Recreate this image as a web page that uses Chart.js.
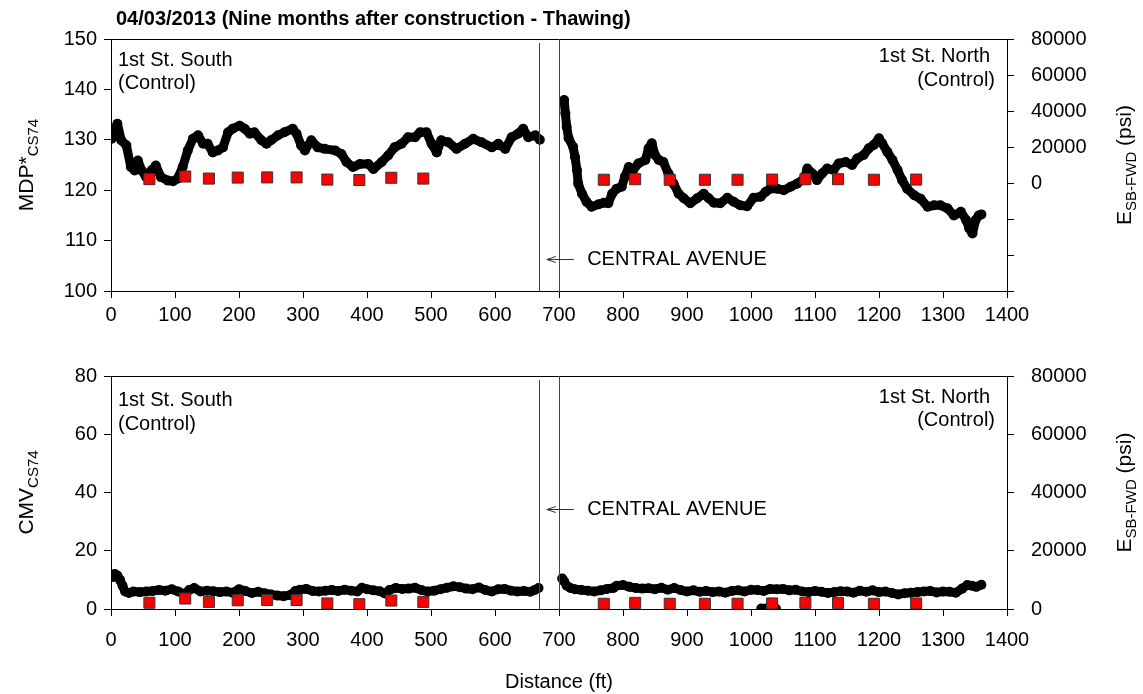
<!DOCTYPE html>
<html>
<head>
<meta charset="utf-8">
<script src="https://cdn.jsdelivr.net/npm/chart.js@4.4.0/dist/chart.umd.min.js"></script>
<style>
  body { margin: 0; background: #fff; }
  canvas { display: block; }
</style>
</head>
<body>
<canvas id="topChart" width="1143" height="347"></canvas>
<canvas id="bottomChart" width="1143" height="347"></canvas>
<script>
// roller data, 1st St. South (left of Central Ave) and 1st St. North (right)
const southFt = [1, 10, 16, 24, 31, 37, 42, 48, 55, 63, 70, 78, 89, 97, 104, 112, 120, 128, 136, 144,
  151, 159, 167, 175, 183, 190, 201, 209, 217, 224, 235, 243, 250, 261, 271, 284, 290, 297, 303, 313,
  323, 334, 350, 360, 368, 378, 389, 402, 410, 423, 433, 443, 454, 464, 475, 483, 493, 501, 509, 516,
  527, 540, 553, 566, 579, 595, 605, 616, 626, 636, 644, 652, 663, 670]
const southMdp = [130.2, 133.2, 129.9, 128.9, 124.6, 123.9, 125.9, 123.9, 122.6, 123.9, 124.9, 122.6, 121.9, 121.8, 122.3, 124.6, 127.9, 130.2, 130.9, 129.2,
  129.2, 127.5, 127.9, 128.5, 131.5, 132.2, 132.8, 132.2, 131.2, 131.5, 129.9, 129.2, 129.9, 130.9, 131.5, 132.2, 131.2, 128.9, 127.9, 129.9,
  128.5, 128.2, 127.9, 127.2, 125.6, 124.6, 125.2, 125.2, 124.2, 125.6, 126.9, 128.5, 129.2, 130.5, 130.5, 131.5, 131.5, 129.2, 127.5, 129.9,
  129.5, 128.2, 129.2, 130.2, 129.5, 128.5, 129.2, 128.2, 130.5, 131.2, 132.2, 130.5, 130.9, 130.0]

const northFt = [708, 710, 712, 715, 722, 725, 728, 730, 736, 743, 751, 762, 770, 777, 783, 790, 798, 803, 809, 816,
  824, 835, 840, 845, 850, 856, 863, 871, 879, 887, 895, 905, 916, 926, 934, 942, 952, 963, 973, 983,
  994, 1004, 1015, 1023, 1030, 1041, 1051, 1062, 1072, 1083, 1088, 1096, 1103, 1111, 1119, 1129, 1137, 1148, 1158, 1166,
  1176, 1184, 1192, 1200, 1205, 1213, 1221, 1229, 1236, 1244, 1255, 1265, 1276, 1286, 1296, 1307, 1317, 1328, 1336, 1341,
  1346, 1351, 1356, 1360]
const northMdp = [137.9, 135.2, 132.6, 130.3, 128.6, 126.6, 124.0, 121.3, 119.3, 117.7, 116.7, 117.2, 117.5, 117.4, 119.3, 120.3, 120.7, 122.7, 124.6, 124.0,
  125.3, 126.0, 128.3, 129.3, 127.0, 126.0, 125.6, 123.3, 121.3, 119.3, 118.4, 117.4, 118.4, 119.3, 118.4, 117.5, 117.4, 118.5, 117.7, 117.0,
  116.8, 118.5, 118.7, 119.7, 120.3, 120.3, 120.0, 120.7, 121.3, 122.3, 124.3, 123.3, 122.0, 123.3, 124.3, 124.0, 125.3, 125.6, 125.0, 126.3,
  127.0, 128.3, 129.0, 130.3, 129.3, 127.6, 126.0, 124.0, 122.0, 120.3, 119.0, 118.3, 116.7, 117.0, 117.0, 116.4, 115.0, 115.7, 114.1, 112.4,
  111.4, 114.1, 115.0, 115.2]

const southCmvFt = [3, 6, 10, 14, 18, 22, 28, 35, 45, 55, 65, 75, 85, 95, 105, 115, 122, 130, 140, 150,
  160, 170, 180, 190, 200, 210, 220, 230, 240, 250, 260, 270, 280, 288, 295, 305, 315, 325, 335, 345,
  355, 365, 375, 385, 392, 400, 410, 420, 428, 435, 445, 455, 465, 475, 485, 495, 505, 515, 525, 535,
  545, 555, 565, 575, 585, 595, 605, 615, 625, 635, 645, 655, 662, 668]
const southCmv = [11, 12, 11.5, 10, 8, 6, 5.5, 6, 5.8, 6, 6.2, 6.5, 6.3, 6.8, 6, 5.2, 6.5, 7.2, 6, 6.3,
  6.1, 5.8, 6, 5.6, 6.8, 6.2, 5.5, 5.9, 5.4, 5.0, 4.6, 4.4, 4.8, 6.2, 6.6, 6.9, 6.2, 6.0, 6.3, 6.5,
  6.2, 6.6, 6.3, 6.0, 7.3, 6.8, 6.4, 6.1, 5.3, 6.5, 7.2, 6.9, 7.0, 7.3, 6.5, 6.0, 6.3, 6.8, 7.3, 7.8,
  7.5, 7.0, 6.8, 7.4, 6.5, 6.0, 6.8, 6.9, 6.3, 6.0, 6.2, 5.9, 6.5, 7.2]

const northCmvFt = [705, 708, 712, 718, 725, 735, 745, 755, 765, 775, 785, 790, 800, 810, 820, 830, 840, 850, 860, 870,
  880, 890, 900, 910, 920, 930, 940, 950, 960, 970, 980, 990, 1000, 1010, 1020, 1030, 1040, 1050, 1060, 1070,
  1080, 1090, 1100, 1110, 1120, 1130, 1140, 1150, 1160, 1170, 1180, 1190, 1200, 1210, 1220, 1230, 1240, 1250, 1260, 1270,
  1280, 1290, 1300, 1310, 1320, 1330, 1338, 1345, 1352, 1360]
const northCmv = [10.5, 9.5, 8.0, 7.2, 6.8, 6.5, 6.3, 6.0, 6.4, 6.9, 7.2, 8.0, 8.2, 7.6, 7.2, 7.0, 7.1, 6.8, 7.3, 6.6,
  7.2, 6.5, 6.0, 6.4, 5.9, 6.2, 5.8, 6.0, 5.6, 6.2, 6.4, 6.0, 6.6, 6.5, 6.2, 6.9, 6.8, 6.9, 6.4, 6.6,
  6.0, 5.8, 6.2, 5.9, 5.5, 5.8, 6.1, 6.0, 5.6, 6.3, 5.9, 6.4, 5.8, 6.0, 5.5, 5.0, 5.4, 5.6, 5.8, 6.0,
  6.2, 5.7, 6.0, 5.9, 5.6, 7.0, 8.2, 8.0, 7.6, 8.3]

// stray readings near zero around 1030 ft
const dipFt = [1016, 1021, 1026, 1031, 1036, 1039]
const dipCmv = [0.2, 0.1, 0.3, 0.1, 0.2, 0.1]

// FWD modulus (psi), same tests shown in both panels
const fwdSouthFt = [60, 116, 153, 198, 244, 290, 338, 388, 438, 488]
const fwdSouthE = [2150, 3600, 2450, 3000, 3100, 3100, 1900, 1650, 2900, 2450]
const fwdNorthFt = [770, 819, 873, 928, 979, 1033, 1085, 1136, 1192, 1258]
const fwdNorthE = [1800, 2100, 1800, 1800, 1800, 1900, 2100, 2100, 1800, 1900]

// axis ranges
const distRange = [0, 1400, 100]
const mdpRange = [100, 150, 10]
const cmvRange = [0, 80, 20]
const eTopRange = [-60000, 80000, 20000]
const eBottomRange = [0, 80000, 20000]

const dividerFt = [668, 700]
const arrowFt = [681, 723]
const avenueFt = 744

const FONT = "'Liberation Sans', Arial, sans-serif"

const pts = (xs, ys) => xs.map((x, i) => ({ x: x, y: ys[i] }))

const curve = (xs, ys) => ({
  data: pts(xs, ys),
  yAxisID: 'y',
  showLine: true,
  borderColor: '#000',
  borderWidth: 9,
  borderCapStyle: 'round',
  borderJoinStyle: 'round',
  backgroundColor: '#000',
  pointRadius: 5,
  pointBorderWidth: 0,
  order: 2
})

const dots = (xs, ys) => ({
  data: pts(xs, ys),
  yAxisID: 'y',
  showLine: false,
  backgroundColor: '#000',
  pointRadius: 5,
  pointBorderWidth: 0,
  order: 2
})

const squares = (xs, ys) => ({
  data: pts(xs, ys),
  yAxisID: 'y2',
  showLine: false,
  pointStyle: 'rect',
  pointRadius: 7.8,
  backgroundColor: '#ff0000',
  borderColor: '#333',
  pointBorderWidth: 1,
  order: 0
})

const axisLine = { display: true, color: '#000', width: 1 }
const outTicks = { drawOnChartArea: false, drawTicks: true, tickLength: 7, color: '#000' }

function scalesFor(left, right, xHeight, xPad) {
  return {
    x: {
      type: 'linear', min: distRange[0], max: distRange[1],
      border: axisLine, grid: outTicks,
      ticks: { stepSize: distRange[2], color: '#000', padding: xPad, font: { family: FONT, size: 20 }, callback: v => String(v) },
      afterFit: s => { s.height = xHeight }
    },
    y: {
      type: 'linear', position: 'left', min: left[0], max: left[1],
      border: axisLine, grid: outTicks,
      ticks: { stepSize: left[2], color: '#000', padding: 7, font: { family: FONT, size: 20 }, callback: v => String(v) },
      afterFit: s => { s.width = 111 }
    },
    y2: {
      type: 'linear', position: 'right', min: right[0], max: right[1],
      border: axisLine, grid: outTicks,
      ticks: { stepSize: right[2], color: '#000', padding: 17, font: { family: FONT, size: 20 }, callback: v => v < 0 ? '' : String(v) },
      afterFit: s => { s.width = 136 }
    }
  }
}

// rotated axis title with a subscript part
function sideTitle(ctx, bx, cy, main, sub, tail) {
  ctx.save()
  ctx.translate(bx, cy)
  ctx.rotate(-Math.PI / 2)
  ctx.fillStyle = '#000'
  ctx.textAlign = 'left'
  ctx.textBaseline = 'alphabetic'
  ctx.font = '21px ' + FONT
  const w1 = ctx.measureText(main).width
  const w3 = tail ? ctx.measureText(tail).width : 0
  ctx.font = '15px ' + FONT
  const w2 = ctx.measureText(sub).width
  let s = -(w1 + w2 + w3) / 2
  ctx.font = '21px ' + FONT
  ctx.fillText(main, s, 0)
  if (tail) ctx.fillText(tail, s + w1 + w2, 0)
  ctx.font = '15px ' + FONT
  ctx.fillText(sub, s + w1, 5)
  ctx.restore()
}

const overlay = {
  id: 'overlay',
  afterDraw(chart, args, o) {
    const ctx = chart.ctx
    const a = chart.chartArea
    const xs = chart.scales.x
    const ys = chart.scales.y
    ctx.save()

    // top edge of the box
    ctx.strokeStyle = '#000'
    ctx.lineWidth = 1
    ctx.beginPath()
    ctx.moveTo(a.left, Math.round(a.top) + 0.5)
    ctx.lineTo(a.right, Math.round(a.top) + 0.5)
    ctx.stroke()

    // Central Avenue dividers
    ctx.strokeStyle = '#444'
    dividerFt.forEach((ft, i) => {
      const px = Math.round(xs.getPixelForValue(ft)) + 0.5
      ctx.beginPath()
      ctx.moveTo(px, a.top + (i === 0 ? 4 : 0))
      ctx.lineTo(px, a.bottom)
      ctx.stroke()
    })

    // arrow pointing to the avenue
    const ay = Math.round(ys.getPixelForValue(o.avenueY)) + 0.5
    const ax0 = xs.getPixelForValue(arrowFt[0])
    const ax1 = xs.getPixelForValue(arrowFt[1])
    ctx.strokeStyle = '#333'
    ctx.beginPath()
    ctx.moveTo(ax1, ay)
    ctx.lineTo(ax0, ay)
    ctx.moveTo(ax0 + 9, ay - 3)
    ctx.lineTo(ax0, ay)
    ctx.lineTo(ax0 + 9, ay + 3)
    ctx.stroke()

    ctx.fillStyle = '#000'
    ctx.textBaseline = 'middle'
    ctx.font = '20px ' + FONT
    ctx.textAlign = 'left'
    ctx.fillText('CENTRAL AVENUE', xs.getPixelForValue(avenueFt), ay)

    ctx.fillText('1st St. South', a.left + 7, a.top + o.south[0])
    ctx.fillText('(Control)', a.left + 7, a.top + o.south[1])
    ctx.textAlign = 'right'
    ctx.fillText('1st St. North', a.right - 17, a.top + o.north[0])
    ctx.fillText('(Control)', a.right - 12, a.top + o.north[1])

    if (o.title) {
      ctx.textAlign = 'left'
      ctx.font = 'bold 20px ' + FONT
      ctx.fillText(o.title, a.left + 5, 19)
    }
    if (o.xTitle) {
      ctx.textAlign = 'center'
      ctx.font = '20px ' + FONT
      ctx.fillText(o.xTitle, (a.left + a.right) / 2, o.xTitleY)
    }

    const cy = (a.top + a.bottom) / 2
    sideTitle(ctx, 33, cy, o.yTitle[0], o.yTitle[1], '')
    sideTitle(ctx, 1131, cy, 'E', 'SB-FWD', ' (psi)')
    ctx.restore()
  }
}

const baseOptions = (scales, padTop, extra) => ({
  responsive: false,
  animation: false,
  devicePixelRatio: 1,
  layout: { padding: { top: padTop, left: 0, right: 0, bottom: 0 } },
  scales: scales,
  plugins: {
    legend: { display: false },
    tooltip: { enabled: false },
    overlay: extra
  }
})

new Chart(document.getElementById('topChart'), {
  type: 'scatter',
  data: {
    datasets: [
      squares(fwdSouthFt, fwdSouthE),
      squares(fwdNorthFt, fwdNorthE),
      curve(southFt, southMdp),
      curve(northFt, northMdp)
    ]
  },
  options: baseOptions(scalesFor(mdpRange, eTopRange, 56, 5), 39, {
    title: '04/03/2013 (Nine months after construction - Thawing)',
    yTitle: ['MDP*', 'CS74'],
    avenueY: 106.3,
    south: [21, 44.5],
    north: [17, 41]
  }),
  plugins: [overlay]
})

new Chart(document.getElementById('bottomChart'), {
  type: 'scatter',
  data: {
    datasets: [
      squares(fwdSouthFt, fwdSouthE),
      squares(fwdNorthFt, fwdNorthE),
      curve(southCmvFt, southCmv),
      curve(northCmvFt, northCmv),
      dots(dipFt, dipCmv)
    ]
  },
  options: baseOptions(scalesFor(cmvRange, eBottomRange, 85, 12), 10, {
    yTitle: ['CMV', 'CS74'],
    avenueY: 34.2,
    south: [24, 48],
    north: [21, 44],
    xTitle: 'Distance (ft)',
    xTitleY: 335
  }),
  plugins: [overlay]
})
</script>
</body>
</html>
